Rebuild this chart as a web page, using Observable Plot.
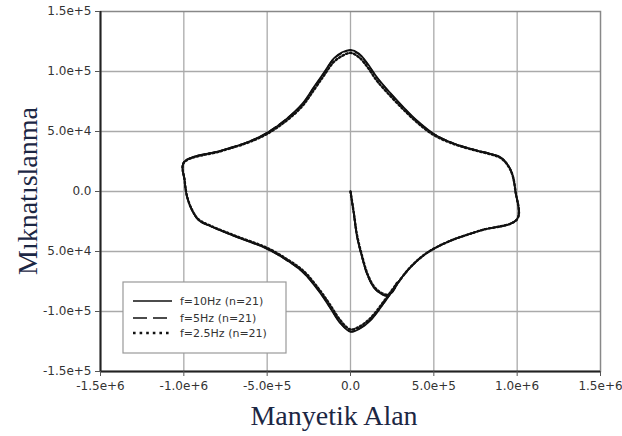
<!DOCTYPE html>
<html>
<head>
<meta charset="utf-8">
<script src="https://cdn.jsdelivr.net/npm/d3@7"></script>
<script src="https://cdn.jsdelivr.net/npm/@observablehq/plot@0.6"></script>
<style>
  html, body { margin: 0; padding: 0; background: #fff; }
  #chart { width: 622px; height: 436px; }
</style>
</head>
<body>
<div id="chart"></div>
<script>
// ---- Data ----
// Path: initial magnetisation curve, then ascending branch to +1e6,
// descending branch to -1e6, ascending branch back.
const H = [
  0, 2e4, 4e4, 7e4, 1.0e5, 1.4e5, 1.8e5, 2.2e5, 2.5e5,
  2.8e5, 3.6e5, 4.6e5, 6.0e5, 7.8e5, 1.0e6,
  9.9e5, 9.7e5, 9.4e5, 9.0e5, 8.4e5, 7.6e5, 6.2e5, 5.0e5, 4.0e5, 3.2e5, 2.4e5, 1.6e5, 1.0e5, 5e4,
  0, -5e4, -1.0e5, -1.6e5, -2.2e5, -2.9e5, -3.8e5, -5.0e5, -6.2e5, -7.8e5, -1.0e6,
  -9.95e5, -9.8e5, -9.5e5, -9.1e5, -8.4e5, -6.8e5, -5.0e5, -3.8e5, -2.8e5, -1.8e5, -1.2e5, -6e4,
  0, 6e4, 1.2e5, 2.0e5, 2.8e5
];
const M10 = [
  0, -1.86e4, -3.8e4, -5.5e4, -6.9e4, -8.0e4, -8.5e4, -8.7e4, -8.4e4,
  -7.7e4, -6.3e4, -5.1e4, -4.1e4, -3.25e4, -2.3e4,
  0, 1.47e4, 2.3e4, 2.86e4, 3.14e4, 3.42e4, 4.0e4, 4.8e4, 5.9e4, 7.0e4, 8.2e4, 9.5e4, 1.07e5, 1.15e5,
  1.18e5, 1.16e5, 1.11e5, 9.9e4, 8.7e4, 7.3e4, 6.1e4, 4.9e4, 4.1e4, 3.4e4, 2.44e4,
  0.92e4, -0.47e4, -1.58e4, -2.4e4, -2.9e4, -3.8e4, -4.78e4, -5.75e4, -6.8e4, -8.5e4, -9.75e4, -1.1e5,
  -1.17e5, -1.14e5, -1.075e5, -9.3e4, -7.7e4
];
const M5 = [
  0, -1.85e4, -3.8e4, -5.5e4, -6.9e4, -8.0e4, -8.5e4, -8.7e4, -8.4e4,
  -7.7e4, -6.3e4, -5.1e4, -4.1e4, -3.25e4, -2.3e4,
  0, 1.47e4, 2.3e4, 2.86e4, 3.14e4, 3.42e4, 4.0e4, 4.8e4, 5.85e4, 6.95e4, 8.15e4, 9.45e4, 1.065e5, 1.145e5,
  1.175e5, 1.155e5, 1.105e5, 9.85e4, 8.65e4, 7.25e4, 6.1e4, 4.9e4, 4.1e4, 3.4e4, 2.44e4,
  0.92e4, -0.47e4, -1.58e4, -2.4e4, -2.9e4, -3.8e4, -4.78e4, -5.75e4, -6.8e4, -8.45e4, -9.7e4, -1.095e5,
  -1.165e5, -1.135e5, -1.07e5, -9.3e4, -7.7e4
];
const M25 = [
  0, -1.8e4, -3.7e4, -5.4e4, -6.8e4, -7.9e4, -8.4e4, -8.6e4, -8.35e4,
  -7.7e4, -6.3e4, -5.1e4, -4.1e4, -3.25e4, -2.3e4,
  0, 1.45e4, 2.25e4, 2.8e4, 3.1e4, 3.38e4, 3.95e4, 4.7e4, 5.75e4, 6.8e4, 7.95e4, 9.2e4, 1.04e5, 1.12e5,
  1.155e5, 1.13e5, 1.08e5, 9.65e4, 8.45e4, 7.1e4, 5.95e4, 4.8e4, 4.05e4, 3.35e4, 2.4e4,
  0.9e4, -0.45e4, -1.55e4, -2.35e4, -2.85e4, -3.75e4, -4.7e4, -5.65e4, -6.65e4, -8.3e4, -9.5e4, -1.075e5,
  -1.15e5, -1.12e5, -1.055e5, -9.15e4, -7.6e4
];
const seriesNames = ["f=10Hz (n=21)", "f=5Hz (n=21)", "f=2.5Hz (n=21)"];
const xTicks = [-1.5e6, -1.0e6, -5.0e5, 0, 5.0e5, 1.0e6, 1.5e6];
const xTickLabels = ["-1.5e+6", "-1.0e+6", "-5.0e+5", "0.0", "5.0e+5", "1.0e+6", "1.5e+6"];
const yTicks = [-1.5e5, -1.0e5, -5.0e4, 0, 5.0e4, 1.0e5, 1.5e5];
const yTickLabels = ["-1.5e+5", "-1.0e+5", "5.0e+4", "0.0", "5.0e+4", "1.0e+5", "1.5e+5"];
const xTitle = "Manyetik Alan";
const yTitle = "Mıknatıslanma";

// ---- Build tables ----
const rows10 = H.map((h, i) => ({H: h, M: M10[i]}));
const rows5 = H.map((h, i) => ({H: h, M: M5[i]}));
const rows25 = H.map((h, i) => ({H: h, M: M25[i]}));

const styles = [
  {strokeWidth: 1.7, strokeDasharray: null, legendDash: null},
  {strokeWidth: 1.7, strokeDasharray: "7,4", legendDash: "14,6"},
  {strokeWidth: 2.4, strokeDasharray: "1.6,2.4", legendDash: "2.6,4"}
];

const svg = Plot.plot({
  width: 622,
  height: 436,
  marginLeft: 100,
  marginRight: 22,
  marginTop: 11,
  marginBottom: 65,
  style: {fontFamily: "DejaVu Sans", fontSize: "12px", color: "#333", background: "#fff"},
  x: {domain: [-1.5e6, 1.5e6]},
  y: {domain: [-1.5e5, 1.5e5]},
  marks: [
    Plot.gridX(xTicks.slice(1, -1), {stroke: "#aaa", strokeOpacity: 1, strokeWidth: 1.3}),
    Plot.gridY(yTicks.slice(1, -1), {stroke: "#aaa", strokeOpacity: 1, strokeWidth: 1.3}),
    Plot.frame({stroke: "#888", strokeWidth: 1.5}),
    Plot.ruleX([-1.5e6], {stroke: "#222", strokeWidth: 2}),
    Plot.ruleY([-1.5e5], {stroke: "#222", strokeWidth: 2}),
    Plot.axisX({ticks: xTicks, tickFormat: d => xTickLabels[xTicks.indexOf(d)], tickSize: 5, tickPadding: 5, stroke: "#555", label: null, fill: "#333"}),
    Plot.axisY({ticks: yTicks, tickFormat: d => yTickLabels[yTicks.indexOf(d)], tickSize: 5, tickPadding: 4, stroke: "#555", label: null, fill: "#333"}),
    Plot.line(rows10, {x: "H", y: "M", stroke: "#111", strokeWidth: styles[0].strokeWidth, curve: "catmull-rom"}),
    Plot.line(rows5, {x: "H", y: "M", stroke: "#111", strokeWidth: styles[1].strokeWidth, strokeDasharray: styles[1].strokeDasharray, curve: "catmull-rom"}),
    Plot.line(rows25, {x: "H", y: "M", stroke: "#111", strokeWidth: styles[2].strokeWidth, strokeDasharray: styles[2].strokeDasharray, curve: "catmull-rom"})
  ]
});

const s = d3.select(svg);
// Axis titles
s.append("text")
  .attr("x", 334).attr("y", 425)
  .attr("text-anchor", "middle")
  .attr("font-family", "Liberation Serif, Times New Roman, serif")
  .attr("font-size", 28)
  .attr("fill", "#1c2744")
  .text(xTitle);
s.append("text")
  .attr("transform", "translate(37,191) rotate(-90)")
  .attr("text-anchor", "middle")
  .attr("font-family", "Liberation Serif, Times New Roman, serif")
  .attr("font-size", 28)
  .attr("fill", "#1c2744")
  .text(yTitle);

// Legend box
const lg = s.append("g");
lg.append("rect")
  .attr("x", 123).attr("y", 282).attr("width", 163).attr("height", 71)
  .attr("fill", "#fff").attr("stroke", "#999").attr("stroke-width", 1.2);
const legendY = [301, 318, 333];
seriesNames.forEach((name, i) => {
  const ln = lg.append("line")
    .attr("x1", 133).attr("x2", 172).attr("y1", legendY[i]).attr("y2", legendY[i])
    .attr("stroke", "#111").attr("stroke-width", i === 2 ? 2.6 : styles[i].strokeWidth);
  if (styles[i].legendDash) ln.attr("stroke-dasharray", styles[i].legendDash);
  lg.append("text")
    .attr("x", 180).attr("y", legendY[i]).attr("dy", "0.35em")
    .attr("text-anchor", "start")
    .attr("font-family", "DejaVu Sans").attr("font-size", 11)
    .attr("fill", "#333")
    .text(name);
});

document.getElementById("chart").appendChild(svg);
</script>
</body>
</html>
